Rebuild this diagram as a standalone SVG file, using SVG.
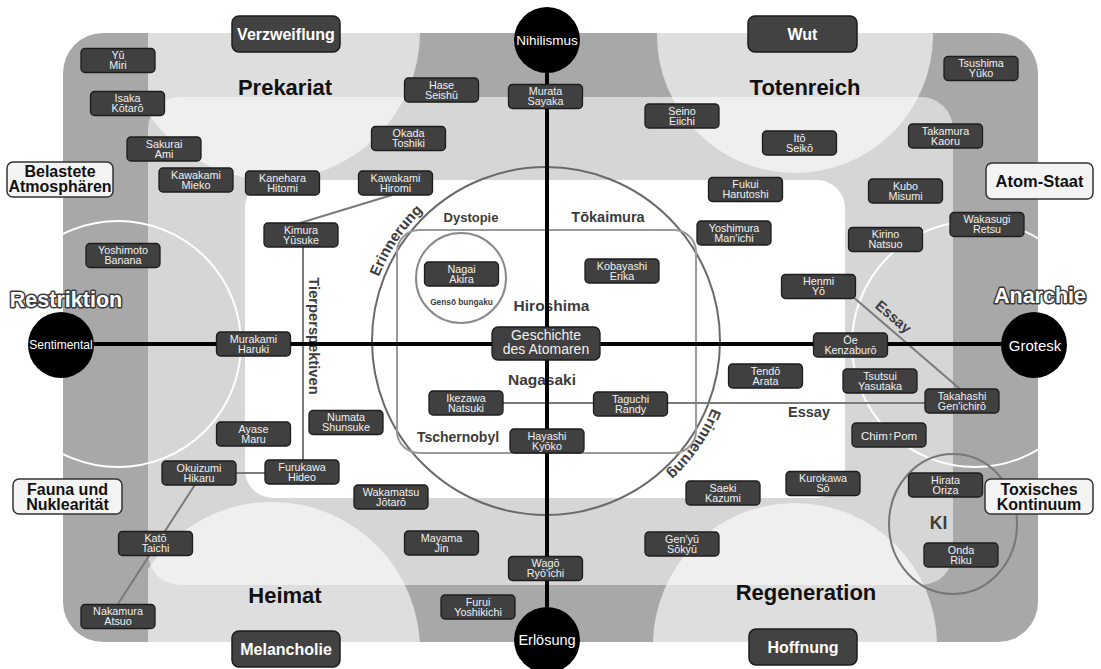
<svg xmlns="http://www.w3.org/2000/svg" width="1101" height="669" viewBox="0 0 1101 669">
<defs>
<clipPath id="clipMid"><rect x="148" y="33" width="805" height="609"/></clipPath>
<clipPath id="clipOuter"><rect x="63" y="33" width="975" height="609" rx="40"/></clipPath>
<path id="arcUp" d="M378.9,276.9 A179,179 0 0 1 530.4,162.7"/>
<path id="arcDown" d="M712,408.1 A179,179 0 0 1 546,520"/>
</defs>
<style>
text{font-family:'Liberation Sans',Arial,Helvetica,sans-serif}
.nb rect{fill:#404040;stroke:#1c1c1c;stroke-width:1.3}
.nb text{fill:#f0f0f0;font-size:10.8px;text-anchor:middle}
.em rect{fill:#424242;stroke:#1c1c1c;stroke-width:1.5}
.em text{fill:#fff;font-size:16px;font-weight:bold;text-anchor:middle}
.sl rect{fill:#f4f4f4;stroke:#333;stroke-width:1.5}
.sl text{fill:#111;font-size:16px;font-weight:bold;text-anchor:middle}
.q{font-size:22px;font-weight:bold;fill:#111;text-anchor:middle}
.ax{fill:#fff;font-weight:bold;font-size:21.5px;text-anchor:middle;stroke:#3a3a3a;stroke-width:3;paint-order:stroke;stroke-linejoin:round}
.pole circle{fill:#000}
.pole text{fill:#fff;text-anchor:middle}
.cl{fill:#3c3c3c;font-weight:bold;text-anchor:middle}
.tp{fill:#3c3c3c;font-weight:bold;text-anchor:start}
.con line{stroke:#7a7a7a;stroke-width:2}
.axis line{stroke:#000;stroke-width:4}
</style>
<rect width="1101" height="669" fill="#fff"/>
<g id="background">
<rect x="63" y="33" width="975" height="609" rx="40" fill="#a8a8a8"/>
<rect x="148" y="97" width="805" height="488" rx="32" fill="#d6d6d6"/>
<g clip-path="url(#clipMid)" fill="#fff" fill-opacity="0.62">
<circle cx="272" cy="32" r="148"/>
<circle cx="795" cy="35" r="138"/>
<circle cx="272" cy="650" r="148"/>
<circle cx="795" cy="645" r="142"/>
</g>
<rect x="245" y="180" width="600" height="318" rx="28" fill="#fff"/>
<g clip-path="url(#clipOuter)" fill="none" stroke="#fff" stroke-width="2">
<circle cx="118" cy="344" r="123"/>
<circle cx="975" cy="344" r="123"/>
</g>
</g>
<g id="quadrant-labels">
<text class="q" x="285" y="95">Prekariat</text>
<text class="q" x="805" y="95">Totenreich</text>
<text class="q" x="285" y="603">Heimat</text>
<text class="q" x="806" y="600">Regeneration</text>
<text class="ax" x="66" y="307">Restriktion</text>
<text class="ax" x="1040" y="303">Anarchie</text>
</g>
<g id="center-shapes" fill="none">
<circle cx="546" cy="341" r="174" stroke="#6a6a6a" stroke-width="2"/>
<rect x="397" y="230" width="299" height="223" rx="22" stroke="#9a9a9a" stroke-width="2"/>
<circle cx="461" cy="278" r="45" stroke="#8a8a8a" stroke-width="2"/>
<ellipse cx="953" cy="524" rx="64" ry="70" stroke="#777" stroke-width="2"/>
</g>
<g id="center-labels">
<text class="cl" x="471" y="222" font-size="13">Dystopie</text>
<text class="cl" x="608" y="222" font-size="14.5">Tōkaimura</text>
<text class="cl" x="551.5" y="311" font-size="15.5">Hiroshima</text>
<text class="cl" x="542" y="385" font-size="15.5">Nagasaki</text>
<text class="cl" x="458" y="442" font-size="14">Tschernobyl</text>
<text class="cl" x="461.5" y="305" font-size="8.3" fill="#555">Gensō bungaku</text>
<text class="cl" x="938.5" y="529" font-size="17.5">KI</text>
<text class="tp" font-size="15"><textPath href="#arcUp">Erinnerung</textPath></text>
<text class="tp" font-size="15"><textPath href="#arcDown">Erinnerung</textPath></text>
<text class="cl" x="809" y="417" font-size="14.5">Essay</text>
<text class="cl" font-size="14.5" transform="translate(886.3,325.1) rotate(40.4)" x="0" y="-6">Essay</text>
<text class="cl" font-size="14.7" transform="translate(309,336) rotate(90)" x="0" y="0">Tierperspektiven</text>
</g>
<g id="connectors" class="con">
<line x1="392" y1="195" x2="300" y2="223"/>
<line x1="303" y1="247" x2="303" y2="460"/>
<line x1="236" y1="473" x2="265" y2="473"/>
<line x1="198" y1="480" x2="116" y2="607"/>
<line x1="852" y1="296" x2="960" y2="389"/>
<line x1="503" y1="403" x2="925" y2="403"/>
</g>
<g id="axes" class="axis">
<line x1="547" y1="40" x2="547" y2="640"/>
<line x1="61" y1="344" x2="1034" y2="344"/>
</g>
<g id="pole-nihilismus" class="pole"><circle cx="547" cy="40" r="33"/><text x="547" y="45" font-size="13.5">Nihilismus</text></g>
<g id="pole-erloesung" class="pole"><circle cx="547" cy="640" r="33"/><text x="547" y="645" font-size="14.5">Erlösung</text></g>
<g id="pole-sentimental" class="pole"><circle cx="61" cy="345" r="33"/><text x="61" y="349" font-size="12">Sentimental</text></g>
<g id="pole-grotesk" class="pole"><circle cx="1034" cy="345" r="33"/><text x="1035" y="350.5" font-size="15">Grotesk</text></g>
<g id="center-node" class="nb"><rect x="492" y="327" width="108" height="33" rx="6"/><text x="546" y="339.5" style="font-size:14px">Geschichte<tspan x="546" dy="14">des Atomaren</tspan></text></g>
<g id="emo-verzweiflung" class="em"><rect x="232" y="16" width="108" height="36" rx="7"/><text x="286" y="39.5">Verzweiflung</text></g>
<g id="emo-wut" class="em"><rect x="748" y="16" width="109" height="36" rx="7"/><text x="802.5" y="39.5">Wut</text></g>
<g id="emo-melancholie" class="em"><rect x="232" y="631" width="108" height="36" rx="7"/><text x="286" y="654.5">Melancholie</text></g>
<g id="emo-hoffnung" class="em"><rect x="749" y="629" width="108" height="36" rx="7"/><text x="803" y="652.5">Hoffnung</text></g>
<g id="side-belastete" class="sl"><rect x="7" y="162" width="106" height="35" rx="6"/><text x="60" y="177">Belastete<tspan x="60" dy="15">Atmosphären</tspan></text></g>
<g id="side-atomstaat" class="sl"><rect x="986" y="163" width="107" height="36" rx="6"/><text x="1039.5" y="186.5" style="font-size:16.5px">Atom-Staat</text></g>
<g id="side-fauna" class="sl"><rect x="13" y="479" width="109" height="35" rx="6"/><text x="67.5" y="495">Fauna und<tspan x="67.5" dy="15">Nuklearität</tspan></text></g>
<g id="side-toxisch" class="sl"><rect x="985" y="479" width="108" height="35" rx="6"/><text x="1039" y="494.5">Toxisches<tspan x="1039" dy="15">Kontinuum</tspan></text></g>
<g id="yu-miri" class="nb"><rect x="81" y="48.5" width="74" height="24" rx="4"/><text x="118" y="59">Yū<tspan x="118" dy="10.3">Miri</tspan></text></g>
<g id="isaka-kotaro" class="nb"><rect x="90.5" y="91.5" width="74" height="24" rx="4"/><text x="127.5" y="102">Isaka<tspan x="127.5" dy="10.3">Kōtarō</tspan></text></g>
<g id="sakurai-ami" class="nb"><rect x="127" y="137" width="74" height="24" rx="4"/><text x="164" y="147.5">Sakurai<tspan x="164" dy="10.3">Ami</tspan></text></g>
<g id="kawakami-mieko" class="nb"><rect x="159" y="168" width="74" height="24" rx="4"/><text x="196" y="178.5">Kawakami<tspan x="196" dy="10.3">Mieko</tspan></text></g>
<g id="kanehara-hitomi" class="nb"><rect x="245.5" y="171" width="74" height="24" rx="4"/><text x="282.5" y="181.5">Kanehara<tspan x="282.5" dy="10.3">Hitomi</tspan></text></g>
<g id="hase-seishu" class="nb"><rect x="404.5" y="78" width="74" height="24" rx="4"/><text x="441.5" y="88.5">Hase<tspan x="441.5" dy="10.3">Seishū</tspan></text></g>
<g id="murata-sayaka" class="nb"><rect x="508.5" y="84.5" width="74" height="24" rx="4"/><text x="545.5" y="95">Murata<tspan x="545.5" dy="10.3">Sayaka</tspan></text></g>
<g id="okada-toshiki" class="nb"><rect x="371.5" y="126.5" width="74" height="24" rx="4"/><text x="408.5" y="137">Okada<tspan x="408.5" dy="10.3">Toshiki</tspan></text></g>
<g id="kawakami-hiromi" class="nb"><rect x="358.5" y="171" width="74" height="24" rx="4"/><text x="395.5" y="181.5">Kawakami<tspan x="395.5" dy="10.3">Hiromi</tspan></text></g>
<g id="seino-eiichi" class="nb"><rect x="645" y="104" width="74" height="24" rx="4"/><text x="682" y="114.5">Seino<tspan x="682" dy="10.3">Eiichi</tspan></text></g>
<g id="ito-seiko" class="nb"><rect x="762.5" y="131" width="74" height="24" rx="4"/><text x="799.5" y="141.5">Itō<tspan x="799.5" dy="10.3">Seikō</tspan></text></g>
<g id="fukui-harutoshi" class="nb"><rect x="708.5" y="177.5" width="74" height="24" rx="4"/><text x="745.5" y="188">Fukui<tspan x="745.5" dy="10.3">Harutoshi</tspan></text></g>
<g id="yoshimura-manichi" class="nb"><rect x="697" y="221" width="74" height="24" rx="4"/><text x="734" y="231.5">Yoshimura<tspan x="734" dy="10.3">Man'ichi</tspan></text></g>
<g id="tsushima-yuko" class="nb"><rect x="944" y="56.5" width="74" height="24" rx="4"/><text x="981" y="67">Tsushima<tspan x="981" dy="10.3">Yūko</tspan></text></g>
<g id="takamura-kaoru" class="nb"><rect x="908.5" y="124" width="74" height="24" rx="4"/><text x="945.5" y="134.5">Takamura<tspan x="945.5" dy="10.3">Kaoru</tspan></text></g>
<g id="kubo-misumi" class="nb"><rect x="868.5" y="179" width="74" height="24" rx="4"/><text x="905.5" y="189.5">Kubo<tspan x="905.5" dy="10.3">Misumi</tspan></text></g>
<g id="wakasugi-retsu" class="nb"><rect x="950" y="212.5" width="74" height="24" rx="4"/><text x="987" y="223">Wakasugi<tspan x="987" dy="10.3">Retsu</tspan></text></g>
<g id="yoshimoto-banana" class="nb"><rect x="86" y="243.5" width="74" height="24" rx="4"/><text x="123" y="254">Yoshimoto<tspan x="123" dy="10.3">Banana</tspan></text></g>
<g id="murakami-haruki" class="nb"><rect x="216.5" y="332" width="74" height="24" rx="4"/><text x="253.5" y="342.5">Murakami<tspan x="253.5" dy="10.3">Haruki</tspan></text></g>
<g id="ayase-maru" class="nb"><rect x="216.5" y="422" width="74" height="24" rx="4"/><text x="253.5" y="432.5">Ayase<tspan x="253.5" dy="10.3">Maru</tspan></text></g>
<g id="kimura-yusuke" class="nb"><rect x="264" y="223" width="74" height="24" rx="4"/><text x="301" y="233.5">Kimura<tspan x="301" dy="10.3">Yūsuke</tspan></text></g>
<g id="nagai-akira" class="nb"><rect x="424.5" y="262" width="74" height="24" rx="4"/><text x="461.5" y="272.5">Nagai<tspan x="461.5" dy="10.3">Akira</tspan></text></g>
<g id="numata-shunsuke" class="nb"><rect x="309" y="410.5" width="74" height="24" rx="4"/><text x="346" y="421">Numata<tspan x="346" dy="10.3">Shunsuke</tspan></text></g>
<g id="ikezawa-natsuki" class="nb"><rect x="429" y="391" width="74" height="24" rx="4"/><text x="466" y="401.5">Ikezawa<tspan x="466" dy="10.3">Natsuki</tspan></text></g>
<g id="hayashi-kyoko" class="nb"><rect x="510" y="429" width="74" height="24" rx="4"/><text x="547" y="439.5">Hayashi<tspan x="547" dy="10.3">Kyōko</tspan></text></g>
<g id="kobayashi-erika" class="nb"><rect x="585" y="259" width="74" height="24" rx="4"/><text x="622" y="269.5">Kobayashi<tspan x="622" dy="10.3">Erika</tspan></text></g>
<g id="taguchi-randy" class="nb"><rect x="593.5" y="392" width="74" height="24" rx="4"/><text x="630.5" y="402.5">Taguchi<tspan x="630.5" dy="10.3">Randy</tspan></text></g>
<g id="tendo-arata" class="nb"><rect x="728.5" y="364" width="74" height="24" rx="4"/><text x="765.5" y="374.5">Tendō<tspan x="765.5" dy="10.3">Arata</tspan></text></g>
<g id="henmi-yo" class="nb"><rect x="781.5" y="274.5" width="74" height="24" rx="4"/><text x="818.5" y="285">Henmi<tspan x="818.5" dy="10.3">Yō</tspan></text></g>
<g id="oe-kenzaburo" class="nb"><rect x="813.5" y="333" width="74" height="24" rx="4"/><text x="850.5" y="343.5">Ōe<tspan x="850.5" dy="10.3">Kenzaburō</tspan></text></g>
<g id="kirino-natsuo" class="nb"><rect x="848.5" y="227.5" width="74" height="24" rx="4"/><text x="885.5" y="238">Kirino<tspan x="885.5" dy="10.3">Natsuo</tspan></text></g>
<g id="tsutsui-yasutaka" class="nb"><rect x="843" y="369" width="74" height="24" rx="4"/><text x="880" y="379.5">Tsutsui<tspan x="880" dy="10.3">Yasutaka</tspan></text></g>
<g id="takahashi-genichiro" class="nb"><rect x="925" y="389" width="74" height="24" rx="4"/><text x="962" y="399.5">Takahashi<tspan x="962" dy="10.3">Gen'ichirō</tspan></text></g>
<g id="chim-pom" class="nb"><rect x="852" y="423" width="74" height="24" rx="4"/><text x="889" y="439.5" style="font-size:11.5px">Chim↑Pom</text></g>
<g id="okuizumi-hikaru" class="nb"><rect x="162" y="461" width="74" height="24" rx="4"/><text x="199" y="471.5">Okuizumi<tspan x="199" dy="10.3">Hikaru</tspan></text></g>
<g id="furukawa-hideo" class="nb"><rect x="265" y="460" width="74" height="24" rx="4"/><text x="302" y="470.5">Furukawa<tspan x="302" dy="10.3">Hideo</tspan></text></g>
<g id="kato-taichi" class="nb"><rect x="118.5" y="531.5" width="74" height="24" rx="4"/><text x="155.5" y="542">Katō<tspan x="155.5" dy="10.3">Taichi</tspan></text></g>
<g id="nakamura-atsuo" class="nb"><rect x="81" y="604.5" width="74" height="24" rx="4"/><text x="118" y="615">Nakamura<tspan x="118" dy="10.3">Atsuo</tspan></text></g>
<g id="wakamatsu-jotaro" class="nb"><rect x="354" y="485" width="74" height="24" rx="4"/><text x="391" y="495.5">Wakamatsu<tspan x="391" dy="10.3">Jōtarō</tspan></text></g>
<g id="mayama-jin" class="nb"><rect x="404.5" y="531" width="74" height="24" rx="4"/><text x="441.5" y="541.5">Mayama<tspan x="441.5" dy="10.3">Jin</tspan></text></g>
<g id="wago-ryoichi" class="nb"><rect x="508.5" y="556.5" width="74" height="24" rx="4"/><text x="545.5" y="567">Wagō<tspan x="545.5" dy="10.3">Ryō'ichi</tspan></text></g>
<g id="furui-yoshikichi" class="nb"><rect x="441" y="595" width="74" height="24" rx="4"/><text x="478" y="605.5">Furui<tspan x="478" dy="10.3">Yoshikichi</tspan></text></g>
<g id="saeki-kazumi" class="nb"><rect x="686" y="481" width="74" height="24" rx="4"/><text x="723" y="491.5">Saeki<tspan x="723" dy="10.3">Kazumi</tspan></text></g>
<g id="genyu-sokyu" class="nb"><rect x="645" y="532" width="74" height="24" rx="4"/><text x="682" y="542.5">Gen'yū<tspan x="682" dy="10.3">Sōkyū</tspan></text></g>
<g id="kurokawa-so" class="nb"><rect x="786" y="471.5" width="74" height="24" rx="4"/><text x="823" y="482">Kurokawa<tspan x="823" dy="10.3">Sō</tspan></text></g>
<g id="hirata-oriza" class="nb"><rect x="908.5" y="473" width="74" height="24" rx="4"/><text x="945.5" y="483.5">Hirata<tspan x="945.5" dy="10.3">Oriza</tspan></text></g>
<g id="onda-riku" class="nb"><rect x="924" y="543" width="74" height="24" rx="4"/><text x="961" y="553.5">Onda<tspan x="961" dy="10.3">Riku</tspan></text></g>
</svg>
